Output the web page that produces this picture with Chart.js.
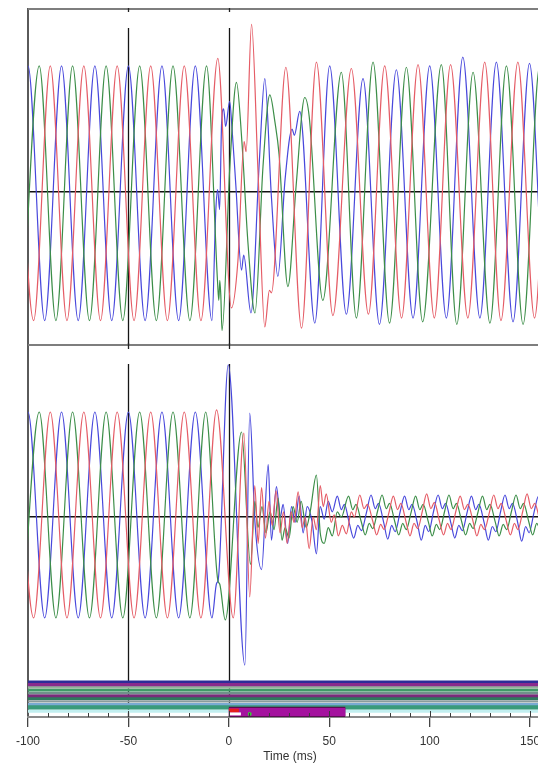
<!DOCTYPE html>
<html>
<head>
<meta charset="utf-8">
<script src="https://cdn.jsdelivr.net/npm/chart.js@4.4.1/dist/chart.umd.min.js"></script>
<style>
  html, body { margin: 0; padding: 0; background: #fff; overflow: hidden; }
  #wrap { position: absolute; left: 0; top: 0; }
</style>
</head>
<body>
<div id="wrap"><canvas id="scope" width="556" height="764"></canvas></div>
<script>
// time axis (ms)
var timeMin = -100;
var timeMax = 160.9;
var timeTicks = [-100, -50, 0, 50, 100, 150];
var cursorTimes = [-50, 0];

// voltages, [ms, pu]
var voltBlue = [[-108.3,-1.02],[-100,1.00],[-91.7,-1.02],[-83.3,1.00],[-75.0,-1.02],[-66.7,1.00],[-58.3,-1.02],[-50.0,1.00],[-41.7,-1.02],[-33.3,1.00],[-25.0,-1.02],[-16.7,1.00],[-8.4,-1.02],[-6.5,-0.15],[-5.6,0.02],[-4.6,-0.14],[-3.6,0.55],[-2.6,0.66],[-1.6,0.52],[0.4,0.72],[1.6,0.50],[3.5,0.05],[6.3,-0.62],[7.4,-0.50],[11.0,-0.96],[15.2,0.25],[17.9,0.90],[21.2,-0.04],[24.4,-0.67],[28.0,0.10],[31.5,0.50],[32.6,0.45],[35.3,0.64],[42.8,-1.04],[50.2,1.00],[58.5,-0.97],[66.8,0.90],[75.0,-1.05],[83.4,0.97],[91.7,-1.00],[100.0,1.00],[108.3,-1.00],[116.5,1.07],[125.0,-1.00],[133.2,1.03],[141.5,-1.03],[149.7,1.02],[158.0,-1.00],[166.3,1.00],[174.6,-1.00]];
var voltRed = [[-105.6,1.00],[-97.2,-1.02],[-88.9,1.00],[-80.6,-1.02],[-72.2,1.00],[-63.9,-1.02],[-55.6,1.00],[-47.2,-1.02],[-38.9,1.00],[-30.6,-1.02],[-22.2,1.00],[-13.9,-1.02],[-5.5,1.06],[1.3,-0.92],[4.5,-0.55],[7.6,0.40],[8.6,0.32],[11.3,1.33],[14.5,0.17],[17.9,-1.07],[20.2,-0.78],[21.2,-0.80],[28.4,0.99],[36.2,-1.08],[43.6,1.03],[51.8,-0.98],[61.0,0.98],[69.5,-0.97],[77.6,1.00],[86.0,-1.00],[94.2,1.01],[102.3,-1.00],[110.4,1.01],[119.0,-1.00],[127.4,1.03],[135.5,-1.02],[143.9,1.03],[152.2,-1.00],[160.5,1.00],[168.8,-1.00]];
var voltGreen = [[-102.8,-1.02],[-94.4,1.00],[-86.1,-1.02],[-77.8,1.00],[-69.4,-1.02],[-61.1,1.00],[-52.8,-1.02],[-44.4,1.00],[-36.1,-1.02],[-27.8,1.00],[-19.4,-1.02],[-11.1,1.00],[-5.6,-0.72],[-5.0,-0.86],[-4.5,-0.70],[-4.0,-0.82],[-3.4,-1.10],[0.5,0.20],[3.8,0.87],[6.5,0.40],[9.5,-0.40],[13.0,-0.96],[17.0,0.20],[20.4,0.77],[23.0,0.55],[25.0,0.30],[29.4,-0.75],[33.5,0.05],[37.8,0.75],[40.0,0.60],[46.8,-0.86],[56.0,0.95],[63.5,-1.00],[71.8,1.03],[80.0,-1.04],[88.4,0.99],[96.5,-1.03],[105.8,1.01],[113.5,-1.05],[121.6,0.95],[130.0,-1.04],[138.2,1.00],[146.5,-1.05],[154.8,1.00],[163.0,-1.00],[171.3,1.00]];

// currents, [ms, pu]
var currBlue = [[-108.3,-0.96],[-100,1.00],[-91.7,-0.96],[-83.3,1.00],[-75.0,-0.96],[-66.7,1.00],[-58.3,-0.96],[-50.0,1.00],[-41.7,-0.96],[-33.3,1.00],[-25.0,-0.96],[-16.7,1.00],[-8.4,-0.96],[-6.1,-0.63],[-5.3,-0.60],[-0.3,1.45],[8.0,-1.41],[10.4,0.99],[13.0,-0.05],[16.3,-0.50],[19.6,0.50],[21.2,-0.22],[23.7,0.29],[25.6,0.00],[27.0,0.12],[29.3,-0.25],[31.2,0.10],[33.0,-0.05],[35.0,0.20],[37.0,-0.15],[39.0,0.10],[41.5,-0.05],[43.6,-0.35],[45.5,0.10],[47.5,-0.02],[49.5,0.15],[51.5,0.05],[54.0,0.20],[56.0,0.07],[57.5,0.12],[60.0,-0.06],[62.2,-0.20],[64.2,-0.08],[66.0,-0.13],[68.6,0.05],[70.8,0.21],[72.9,0.08],[74.5,0.13],[77.2,-0.06],[79.1,-0.21],[81.1,-0.08],[82.8,-0.14],[85.4,0.06],[87.5,0.20],[89.6,0.07],[91.2,0.12],[93.9,-0.06],[95.8,-0.22],[97.8,-0.08],[99.5,-0.14],[102.0,0.06],[104.2,0.21],[106.3,0.08],[107.9,0.13],[110.6,-0.06],[112.5,-0.20],[114.5,-0.08],[116.2,-0.13],[118.7,0.05],[120.8,0.20],[122.9,0.07],[124.5,0.12],[127.2,-0.06],[129.2,-0.22],[131.2,-0.09],[132.9,-0.14],[135.4,0.06],[137.5,0.21],[139.6,0.08],[141.2,0.13],[143.9,-0.06],[145.8,-0.23],[147.8,-0.09],[149.5,-0.15],[152.0,0.05],[154.2,0.20],[156.3,0.07],[157.9,0.12],[160.6,-0.06],[162.5,-0.21],[164.5,-0.08]];
var currRed = [[-105.6,1.00],[-97.2,-0.96],[-88.9,1.00],[-80.6,-0.96],[-72.2,1.00],[-63.9,-0.96],[-55.6,1.00],[-47.2,-0.96],[-38.9,1.00],[-30.6,-0.96],[-22.2,1.00],[-13.9,-0.96],[-6.1,1.02],[2.2,-0.96],[7.5,0.80],[10.4,-0.76],[12.9,0.30],[14.6,-0.25],[16.3,0.28],[18.2,-0.20],[20.0,0.15],[21.6,-0.08],[23.5,0.25],[25.5,-0.15],[27.2,0.05],[29.0,-0.25],[31.0,0.05],[32.5,-0.05],[34.5,0.24],[36.5,-0.10],[38.0,0.00],[40.0,-0.30],[42.0,0.00],[43.6,-0.12],[45.5,0.30],[47.0,0.10],[48.5,0.22],[51.0,-0.05],[52.5,0.02],[54.5,-0.18],[56.5,-0.08],[58.5,-0.16],[61.0,0.05],[62.5,0.00],[65.2,0.21],[67.3,0.08],[69.0,0.12],[71.8,-0.05],[73.6,-0.17],[75.6,-0.07],[77.3,-0.12],[79.8,0.05],[81.9,0.20],[84.0,0.07],[85.6,0.13],[88.4,-0.06],[90.2,-0.18],[92.2,-0.06],[94.0,-0.11],[96.4,0.06],[98.5,0.22],[100.6,0.08],[102.3,0.14],[105.0,-0.05],[106.9,-0.17],[108.9,-0.06],[110.6,-0.12],[113.1,0.06],[115.2,0.20],[117.3,0.07],[119.0,0.12],[121.7,-0.05],[123.5,-0.18],[125.5,-0.07],[127.2,-0.12],[129.8,0.05],[131.9,0.21],[134.0,0.08],[135.6,0.13],[138.3,-0.05],[140.2,-0.17],[142.2,-0.06],[143.9,-0.12],[146.4,0.06],[148.5,0.22],[150.6,0.08],[152.3,0.13],[155.0,-0.05],[156.9,-0.18],[158.9,-0.07],[160.6,-0.12],[163.0,0.05],[165.2,0.20]];
var currGreen = [[-102.8,-0.96],[-94.4,1.00],[-86.1,-0.96],[-77.8,1.00],[-69.4,-0.96],[-61.1,1.00],[-52.8,-0.96],[-44.4,1.00],[-36.1,-0.96],[-27.8,1.00],[-19.4,-0.96],[-11.5,1.00],[-5.5,-0.60],[-4.5,-0.64],[-1.8,-0.98],[6.3,0.81],[10.8,-0.45],[13.0,0.15],[14.5,-0.10],[16.5,0.10],[18.5,-0.15],[20.5,0.05],[22.5,-0.12],[24.5,0.18],[26.5,-0.22],[28.0,-0.10],[30.0,-0.20],[32.0,0.10],[34.0,-0.05],[36.0,0.15],[38.5,-0.10],[40.5,0.05],[43.6,0.40],[45.5,-0.15],[47.5,-0.25],[49.5,-0.10],[51.5,-0.18],[54.0,0.05],[56.0,0.00],[59.6,0.20],[61.7,0.07],[63.3,0.12],[66.0,-0.05],[67.9,-0.17],[69.9,-0.06],[71.6,-0.11],[74.1,0.06],[76.3,0.21],[78.4,0.08],[80.0,0.13],[82.7,-0.05],[84.6,-0.17],[86.6,-0.06],[88.3,-0.12],[90.8,0.05],[93.0,0.20],[95.1,0.07],[96.7,0.12],[99.4,-0.05],[101.3,-0.18],[103.3,-0.07],[105.0,-0.12],[107.5,0.06],[109.6,0.21],[111.7,0.08],[113.3,0.13],[116.0,-0.05],[117.9,-0.17],[119.9,-0.06],[121.6,-0.11],[124.1,0.05],[126.3,0.20],[128.4,0.07],[130.0,0.12],[132.7,-0.05],[134.6,-0.18],[136.6,-0.07],[138.3,-0.12],[140.8,0.06],[143.0,0.21],[145.1,0.08],[146.7,0.13],[149.4,-0.05],[151.3,-0.17],[153.3,-0.06],[155.0,-0.11],[157.5,0.05],[159.6,0.20],[161.7,0.07],[163.3,0.12],[166.0,-0.05]];

// digital channels (level per channel, top to bottom)
var digitalLevels = [10, 9, 8, 7, 6, 5, 4, 3, 2, 1, -0.5];
var tripSpan = [0, 58];
var tripLevel = -0.8;
var startSpan = [0, 5];
var startLevel = -0.3;
var resetSpan = [0, 6];
var resetLevel = -1.5;
var pickupTime = 10.4;

// styles
var RED = '#e55c66', GREEN = '#3c8e48', BLUE = '#4848dc';
var digitalColors = ['#2c2c98', '#8a2a8c', '#93b29c', '#3f9a66', '#6f918a', '#7a2a7a', '#2f7a5e', '#8a9c9c', '#7aaad2', '#3a9a7a', '#c2eff0'];
var digitalWidths = [2.4, 3.2, 2.6, 2.8, 2.6, 2.8, 3.0, 2.4, 2.4, 5.0, 3.4];
var FONT_FAMILY = "'Liberation Sans Narrow', 'Liberation Sans', sans-serif";

function pts(arr) {
  return arr.map(function (p) { return {x: p[0], y: p[1]}; });
}
function wave(arr, color, axis) {
  return {data: pts(arr), borderColor: color, borderWidth: 1.2, pointRadius: 0,
          cubicInterpolationMode: 'monotone', yAxisID: axis, fill: false};
}
function bar(span, level, color, width) {
  return {data: [{x: span[0], y: level}, {x: span[1], y: level}], borderColor: color,
          borderWidth: width, pointRadius: 0, yAxisID: 'yD', borderCapStyle: 'butt'};
}

var datasets = [];
// event bar on top
datasets.push({data: [{x: pickupTime, y: resetLevel}], yAxisID: 'yD', showLine: false,
               pointRadius: 2, pointBackgroundColor: '#39c93a', pointBorderWidth: 0});
datasets.push(bar(resetSpan, resetLevel, '#ffffff', 3));
datasets.push(bar(startSpan, startLevel, '#e41c1c', 4));
datasets.push(bar(tripSpan, tripLevel, '#a4129e', 8));
datasets.push(bar(tripSpan, tripLevel, '#5b0d52', 10.5));
digitalLevels.forEach(function (lv, i) {
  datasets.push(bar([-120, 200], lv, digitalColors[i], digitalWidths[i]));
});
datasets.push(wave(voltRed, RED, 'yV'));
datasets.push(wave(voltGreen, GREEN, 'yV'));
datasets.push(wave(voltBlue, BLUE, 'yV'));
datasets.push(wave(currRed, RED, 'yI'));
datasets.push(wave(currGreen, GREEN, 'yI'));
datasets.push(wave(currBlue, BLUE, 'yI'));

function zeroOnly(axis) { axis.ticks = [{value: 0}]; }

var scopeFrame = {
  id: 'scopeFrame',
  beforeDatasetsDraw: function (chart) {
    var ctx = chart.ctx, x = chart.scales.x, a = chart.chartArea;
    var yV = chart.scales.yV, yI = chart.scales.yI;
    ctx.save();
    ctx.strokeStyle = '#151515';
    ctx.lineWidth = 1.3;
    cursorTimes.forEach(function (t) {
      var px = Math.round(x.getPixelForValue(t)) + 0.5;
      ctx.beginPath();
      ctx.moveTo(px, yV.top + 19); ctx.lineTo(px, yV.bottom);
      ctx.moveTo(px, yI.top + 19); ctx.lineTo(px, a.bottom);
      ctx.stroke();
    });
    ctx.restore();
  },
  afterDatasetsDraw: function (chart) {
    var ctx = chart.ctx, x = chart.scales.x, a = chart.chartArea;
    var yV = chart.scales.yV, yI = chart.scales.yI;
    ctx.save();
    ctx.strokeStyle = '#7e7e7e';
    ctx.lineWidth = 2;
    [yV.top, yI.top].forEach(function (y) {
      ctx.beginPath(); ctx.moveTo(a.left, y); ctx.lineTo(a.right, y); ctx.stroke();
    });
    ctx.strokeStyle = '#222';
    ctx.lineWidth = 1.3;
    cursorTimes.forEach(function (t) {
      var px = Math.round(x.getPixelForValue(t)) + 0.5;
      ctx.beginPath();
      ctx.moveTo(px, yV.top - 1); ctx.lineTo(px, yV.top + 3);
      ctx.moveTo(px, yI.top - 2); ctx.lineTo(px, yI.top + 4);
      ctx.stroke();
    });
    // minor ticks along the time axis
    ctx.strokeStyle = '#3a3a3a';
    ctx.lineWidth = 1;
    for (var t = timeMin + 10; t < timeMax; t += 10) {
      var px = Math.round(x.getPixelForValue(t)) + 0.5;
      var len = (t % 50 === 0) ? 6 : 4;
      ctx.beginPath(); ctx.moveTo(px, a.bottom - len); ctx.lineTo(px, a.bottom); ctx.stroke();
    }
    ctx.restore();
  }
};

var hiddenY = {ticks: {display: false}, grid: {color: '#111', lineWidth: 1.4, drawTicks: false},
               border: {color: '#5a5a5a', width: 2}};

new Chart(document.getElementById('scope').getContext('2d'), {
  type: 'line',
  data: {datasets: datasets},
  plugins: [scopeFrame],
  options: {
    responsive: false,
    animation: false,
    events: [],
    layout: {padding: {left: 28, top: 9, right: 0, bottom: 0}},
    plugins: {legend: {display: false}, tooltip: {enabled: false}},
    scales: {
      yD: {type: 'linear', position: 'left', stack: 'scope', stackWeight: 39, min: -2.61, max: 11.32,
           ticks: {display: false}, grid: {display: false, drawTicks: false},
           border: {color: '#5a5a5a', width: 2}},
      yI: Object.assign({type: 'linear', position: 'left', stack: 'scope', stackWeight: 333,
           min: -1.533, max: 1.638, afterBuildTicks: zeroOnly}, hiddenY),
      yV: Object.assign({type: 'linear', position: 'left', stack: 'scope', stackWeight: 336,
           min: -1.214, max: 1.452, afterBuildTicks: zeroOnly}, hiddenY),
      x: {
        type: 'linear', position: 'bottom', min: timeMin, max: timeMax,
        afterBuildTicks: function (axis) {
          axis.ticks = timeTicks.map(function (v) { return {value: v}; });
        },
        ticks: {color: '#333', padding: 8, maxRotation: 0, autoSkip: false,
                font: {family: FONT_FAMILY, size: 12, lineHeight: 1.08}},
        grid: {drawOnChartArea: false, tickLength: 10, color: '#444', lineWidth: 1.3},
        border: {color: '#8a8a8a', width: 2},
        title: {display: true, text: 'Time (ms)', color: '#333', padding: {top: -5, bottom: 1},
                font: {family: FONT_FAMILY, size: 12, lineHeight: 1}}
      }
    }
  }
});
</script>
</body>
</html>
